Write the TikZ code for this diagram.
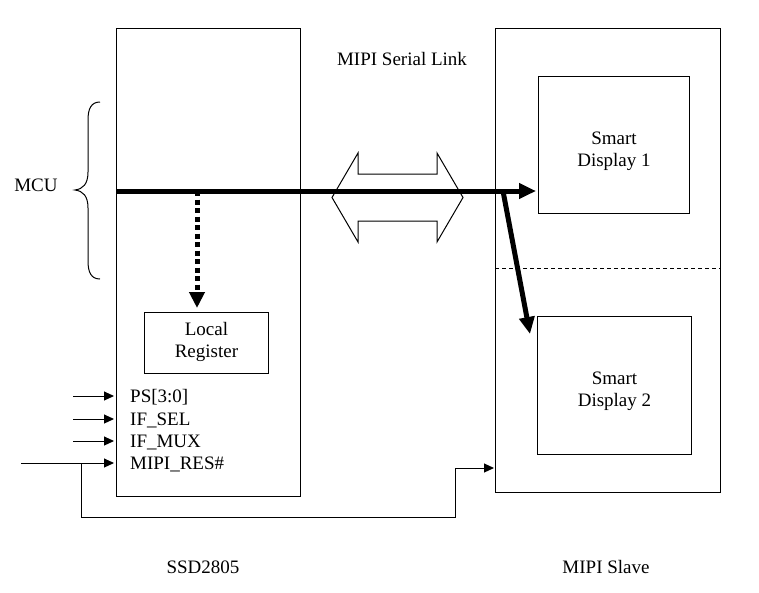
\documentclass[tikz,border=0pt]{standalone}
\usepackage{fontspec}
\setmainfont{Liberation Serif}
\usetikzlibrary{arrows.meta}
\begin{document}
\begin{tikzpicture}[x=1pt,y=-1pt,
  every node/.style={font=\fontsize{19}{22}\selectfont, inner sep=0pt, align=center},
  blk/.style={draw, line width=0.9pt, anchor=north west},
  bus/.style={line width=5pt, -{Triangle[length=17pt,width=15pt]}},
  pin/.style={line width=1pt, -{Triangle[length=10pt,width=9pt]}},
  lbl/.style={anchor=west}]
\useasboundingbox (0,0) rectangle (759,592);
% blocks
\node[blk, minimum width=184pt, minimum height=468pt] (ssd) at (116,28) {};
\node[blk, minimum width=225pt, minimum height=464pt] (slave) at (495,28) {};
\node[blk, minimum width=151pt, minimum height=137pt] (sd1) at (538,76) {};
\node[blk, minimum width=154pt, minimum height=138pt] (sd2) at (537,316) {};
\node[blk, minimum width=124pt, minimum height=61pt] (reg) at (144,312) {};
\node at ([yshift=-6pt]sd1.center) {Smart\\Display 1};
\node at ([yshift=-6pt]sd2.center) {Smart\\Display 2};
\node at ([yshift=1pt]reg.center) {Local\\Register};
% dashed separator
\draw[dashed, line width=0.9pt, dash pattern=on 4pt off 3pt] (slave.west |- 0,268) coordinate (dL) -- (slave.east |- 0,268) coordinate (dR);
% labels
\node (serial) at (402,59) {MIPI Serial Link};
\node (mcu) at (36,185) {MCU};
\node (ssdlbl) at (203,567) {SSD2805};
\node (slavelbl) at (606,567) {MIPI Slave};
% brace
\draw[line width=1pt] (100,102) .. controls (91,102) and (88,109) .. (88,120) -- (88,172)
  .. controls (88,184) and (83,189) .. (75,190) .. controls (83,191) and (88,196) .. (88,208)
  -- (88,261) .. controls (88,272) and (91,279) .. (100,279);
% hollow double arrow
\draw[line width=1pt, fill=white] (332,197.5) -- (358,153) -- (358,174) -- (437,174) -- (437,153)
  -- (463,197.5) -- (437,242) -- (437,221) -- (358,221) -- (358,242) -- cycle;
% bus
\coordinate (busL) at (116,191);
\coordinate (busR) at (536,191);
\coordinate (brk) at (503,191);
\coordinate (sd2in) at (530,334);
\draw[bus] (busL) -- (busR);
\draw[bus] (brk) -- (sd2in);
\coordinate (tap) at (197,191);
\coordinate (regin) at (197,308);
\draw[line width=5pt, dash pattern=on 5pt off 3.5pt, -{Triangle[length=16pt,width=15pt]}] (tap) -- (regin);
% pins
\foreach \y/\t/\n in {396/PS[3:0]/ps, 419/IF\_SEL/ifsel, 441/IF\_MUX/ifmux, 463/MIPI\_RES\#/res} {
  \coordinate (\n in) at (73,\y);
  \coordinate (\n tip) at (114,\y);
  \node[lbl] (\n) at (130,\y+1) {\t};
}
\draw[pin] (psin) -- (pstip);
\draw[pin] (ifselin) -- (ifseltip);
\draw[pin] (ifmuxin) -- (ifmuxtip);
\coordinate (resstart) at (21,463);
\draw[pin] (resstart) -- (restip);
\coordinate (br) at (81,463);
\coordinate (slvres) at (494,468);
\draw[pin] (br) |- (455,517) |- (slvres);
\end{tikzpicture}
\end{document}
